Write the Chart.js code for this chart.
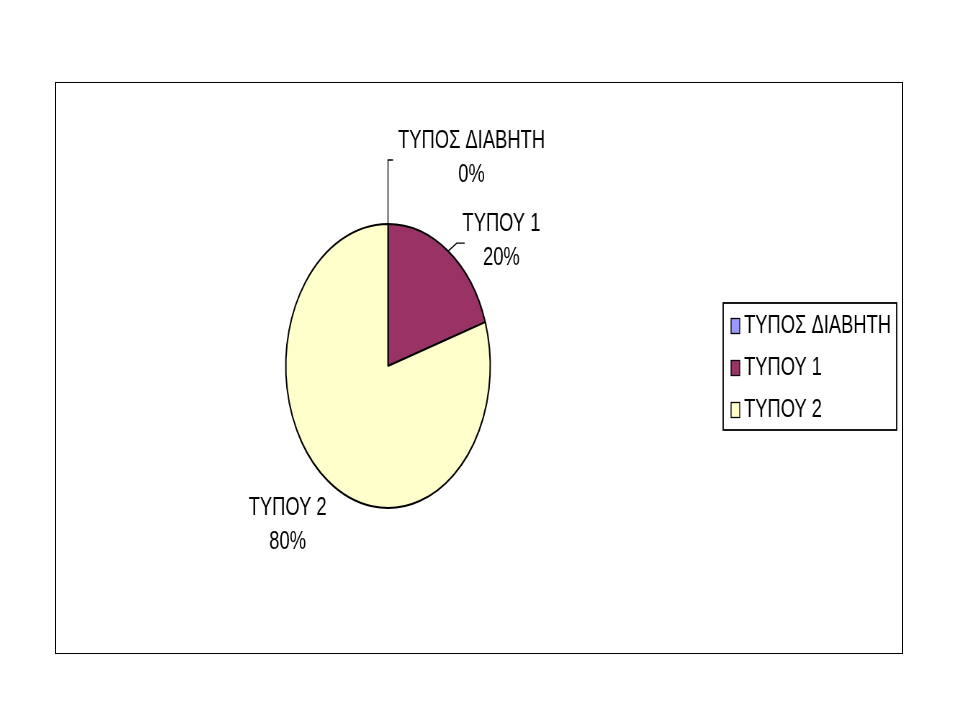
<!DOCTYPE html>
<html>
<head>
<meta charset="utf-8">
<script src="https://cdn.jsdelivr.net/npm/chart.js@4"></script>
<style>
  html, body { margin: 0; padding: 0; background: #fff; }
  body { width: 960px; height: 720px; position: relative; overflow: hidden; }
  #pie {
    position: absolute; left: 55px; top: 82px;
    transform-origin: 0 0; transform: scaleX(0.72);
  }
  #frame {
    position: absolute; left: 55px; top: 82px; width: 848px; height: 572px;
    box-sizing: border-box; border: 1px solid #000; pointer-events: none;
  }
</style>
</head>
<body>
<canvas id="pie" width="1178" height="571"></canvas>
<div id="frame"></div>
<script>
// --- data ---
const labels = ['ΤΥΠΟΣ ΔΙΑΒΗΤΗ', 'ΤΥΠΟΥ 1', 'ΤΥΠΟΥ 2'];
const shares = [0, 20, 80];
const colors = ['#9999FF', '#993366', '#FFFFCC'];

const FONT = '25.5px "Liberation Sans", Arial, sans-serif';

// labels next to the slices, with Excel-like leader lines
const sliceLabels = {
  id: 'sliceLabels',
  afterDatasetsDraw(chart, args, opts) {
    const ctx = chart.ctx;
    const meta = chart.getDatasetMeta(0);
    const vals = chart.data.datasets[0].data;
    const total = vals.reduce((a, b) => a + b, 0);
    ctx.save();
    ctx.font = FONT;
    ctx.fillStyle = '#000';
    ctx.strokeStyle = '#000';
    ctx.lineWidth = 1.4;
    ctx.textAlign = 'center';
    ctx.textBaseline = 'middle';
    meta.data.forEach((arc, i) => {
      const p = arc.getProps(['x', 'y', 'startAngle', 'endAngle', 'outerRadius'], true);
      const mid = (p.startAngle + p.endAngle) / 2;
      const ex = p.x + Math.cos(mid) * p.outerRadius;
      const ey = p.y + Math.sin(mid) * p.outerRadius;
      const place = opts.place[i];
      if (place.leader) {
        ctx.beginPath();
        ctx.moveTo(ex, ey);
        place.leader.forEach(([dx, dy]) => ctx.lineTo(ex + dx, ey + dy));
        ctx.stroke();
      }
      const cx = ex + place.dx, cy = ey + place.dy;
      const pct = Math.round(vals[i] / total * 100) + '%';
      ctx.fillText(chart.data.labels[i], cx, cy - opts.lineGap / 2);
      ctx.fillText(pct, cx, cy + opts.lineGap / 2);
    });
    ctx.restore();
  }
};

// boxed legend on the right
const boxLegend = {
  id: 'boxLegend',
  afterDraw(chart, args, opts) {
    const ctx = chart.ctx;
    const ds = chart.data.datasets[0];
    ctx.save();
    ctx.strokeStyle = '#000';
    ctx.lineWidth = 1.8;
    ctx.strokeRect(opts.x, opts.y, opts.w, opts.h);
    ctx.font = FONT;
    ctx.textAlign = 'left';
    ctx.textBaseline = 'middle';
    chart.data.labels.forEach((lab, i) => {
      const cy = opts.firstY + i * opts.step;
      ctx.fillStyle = ds.backgroundColor[i];
      ctx.fillRect(opts.x + 11, cy - 7.5, 12, 15);
      ctx.lineWidth = 1.3;
      ctx.strokeRect(opts.x + 11, cy - 7.5, 12, 15);
      ctx.fillStyle = '#000';
      ctx.fillText(lab, opts.x + 29, cy);
    });
    ctx.restore();
  }
};

new Chart(document.getElementById('pie'), {
  type: 'pie',
  data: {
    labels: labels,
    datasets: [{
      data: shares,
      backgroundColor: colors,
      borderColor: '#000',
      borderWidth: 2,
      radius: 142
    }]
  },
  options: {
    responsive: false,
    animation: false,
    events: [],
    layout: { padding: { left: 320.5, right: 573.5, top: 142, bottom: 145 } },
    plugins: {
      legend: { display: false },
      tooltip: { enabled: false },
      sliceLabels: {
        lineGap: 34,
        place: [
          { dx: 116, dy: -66, leader: [[0, -64], [7, -64]] },
          { dx: 74, dy: -10, leader: [[12, -8], [23, -8]] },
          { dx: -56, dy: 44 }
        ]
      },
      boxLegend: { x: 928, y: 221, w: 241, h: 127, firstY: 244, step: 42 }
    }
  },
  plugins: [sliceLabels, boxLegend]
});
</script>
</body>
</html>
